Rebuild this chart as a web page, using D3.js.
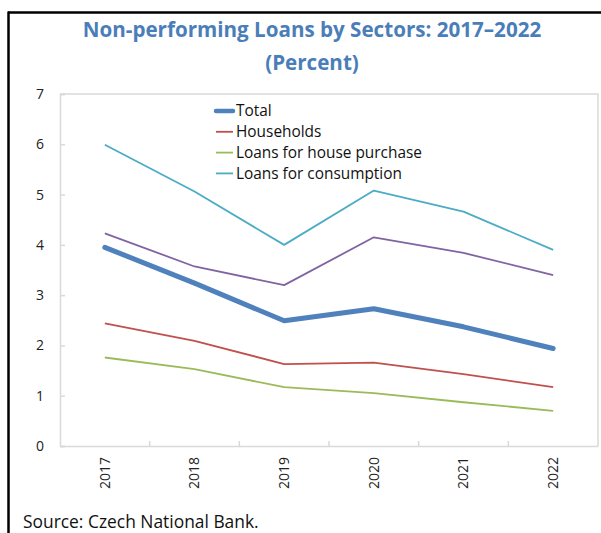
<!DOCTYPE html>
<html>
<head>
<meta charset="utf-8">
<script src="https://cdn.jsdelivr.net/npm/d3@7"></script>
<style>
  html, body { margin: 0; padding: 0; background: #fff; }
  svg { display: block; font-family: "Open Sans", "Noto Sans", sans-serif; }
</style>
</head>
<body>
<svg id="chart" width="601" height="533"></svg>
<script>
const years = ["2017", "2018", "2019", "2020", "2021", "2022"];
const total = [3.95, 3.24, 2.49, 2.73, 2.37, 1.94];
const households = [2.44, 2.09, 1.63, 1.66, 1.43, 1.17];
const housePurchase = [1.76, 1.53, 1.17, 1.05, 0.87, 0.70];
const consumption = [5.99, 5.06, 4.00, 5.08, 4.66, 3.90];
const corporations = [4.23, 3.57, 3.20, 4.15, 3.84, 3.40];
const yTicks = [0, 1, 2, 3, 4, 5, 6, 7];

const series = [
  { name: "Nonfinancial corporations", values: corporations, color: "#8064A2", width: 1.8, legend: false },
  { name: "Loans for consumption", values: consumption, color: "#4BACC6", width: 1.8, legend: true },
  { name: "Loans for house purchase", values: housePurchase, color: "#9BBB59", width: 1.8, legend: true },
  { name: "Households", values: households, color: "#C0504D", width: 1.8, legend: true },
  { name: "Total", values: total, color: "#4F81BD", width: 5, legend: true }
];
const legendOrder = ["Total", "Households", "Loans for house purchase", "Loans for consumption"];

const svg = d3.select("#chart");

// outer frame
svg.append("line").attr("x1", 8).attr("x2", 601).attr("y1", 12.5).attr("y2", 12.5)
  .attr("stroke", "#000").attr("stroke-width", 2.5);
svg.append("line").attr("x1", 8.5).attr("x2", 8.5).attr("y1", 11.5).attr("y2", 533)
  .attr("stroke", "#000").attr("stroke-width", 2.5);

// title
const titleColor = "#4A7EB8";
svg.append("text").attr("x", 312).attr("y", 37).attr("text-anchor", "middle")
  .attr("font-weight", "bold").attr("font-size", 20.6).attr("fill", titleColor)
  .text("Non-performing Loans by Sectors: 2017\u20132022");
svg.append("text").attr("x", 312).attr("y", 70).attr("text-anchor", "middle")
  .attr("font-weight", "bold").attr("font-size", 20.6).attr("fill", titleColor)
  .text("(Percent)");

const pLeft = 60, pRight = 598, pTop = 94, pBottom = 446;
const x = d3.scaleBand().domain(years).range([pLeft, pRight]);
const y = d3.scaleLinear().domain([0, 7]).range([pBottom, pTop]);
const cx = d => x(d) + x.bandwidth() / 2;

// plot frame (top/right)
svg.append("path")
  .attr("d", `M${pLeft},${pTop}H${pRight}V${pBottom}`)
  .attr("fill", "none").attr("stroke", "#D9D9D9").attr("stroke-width", 1.5);

// y axis
const yAxis = svg.append("g").attr("transform", `translate(${pLeft},0)`)
  .call(d3.axisLeft(y).tickValues(yTicks).tickFormat(d3.format("d")).tickSize(-5).tickPadding(16));
yAxis.select(".domain").attr("stroke", "#D9D9D9").attr("stroke-width", 1.5);
yAxis.selectAll(".tick line").attr("stroke", "#D9D9D9").attr("stroke-width", 1.5);
yAxis.selectAll(".tick text").attr("font-size", 14).attr("fill", "#222")
  .attr("font-family", "'Open Sans', sans-serif");

// x axis
const xAxis = svg.append("g").attr("transform", `translate(0,${pBottom})`)
  .call(d3.axisBottom(x).tickSize(0).tickSizeOuter(0));
xAxis.select(".domain").attr("stroke", "#D9D9D9").attr("stroke-width", 1.5);
xAxis.selectAll(".tick text")
  .attr("font-size", 14).attr("fill", "#222").attr("font-family", "'Open Sans', sans-serif")
  .attr("text-anchor", "end").attr("dy", "0.35em")
  .attr("transform", "translate(0,11) rotate(-90)")
  .attr("x", 0).attr("y", 0);
// tick marks between categories, pointing inward
xAxis.selectAll(".sep").data(years.slice(1)).enter().append("line")
  .attr("class", "sep")
  .attr("x1", d => x(d)).attr("x2", d => x(d))
  .attr("y1", 0).attr("y2", -5)
  .attr("stroke", "#D9D9D9").attr("stroke-width", 1.5);

// lines
const line = d3.line().x((d, i) => cx(years[i])).y(d => y(d));
svg.append("g").selectAll("path").data(series).enter().append("path")
  .attr("d", d => line(d.values))
  .attr("fill", "none")
  .attr("stroke", d => d.color)
  .attr("stroke-width", d => d.width)
  .attr("stroke-linejoin", "round")
  .attr("stroke-linecap", d => d.width > 3 ? "round" : "butt");

// legend
const legendItems = legendOrder.map(n => series.find(s => s.name === n));
const lg = svg.append("g");
legendItems.forEach((s, i) => {
  const yy = 111 + i * 20.8;
  lg.append("line").attr("x1", 216).attr("x2", 233).attr("y1", yy).attr("y2", yy)
    .attr("stroke", s.color).attr("stroke-width", s.width > 3 ? 4.5 : 1.8)
    .attr("stroke-linecap", s.width > 3 ? "round" : "butt");
  lg.append("text").attr("x", 236).attr("y", yy).attr("dy", "0.35em")
    .attr("font-size", 15.4).attr("fill", "#111").text(s.name);
});

// source
svg.append("text").attr("x", 23).attr("y", 528).attr("font-size", 17.4).attr("fill", "#111")
  .text("Source: Czech National Bank.");
</script>
</body>
</html>
